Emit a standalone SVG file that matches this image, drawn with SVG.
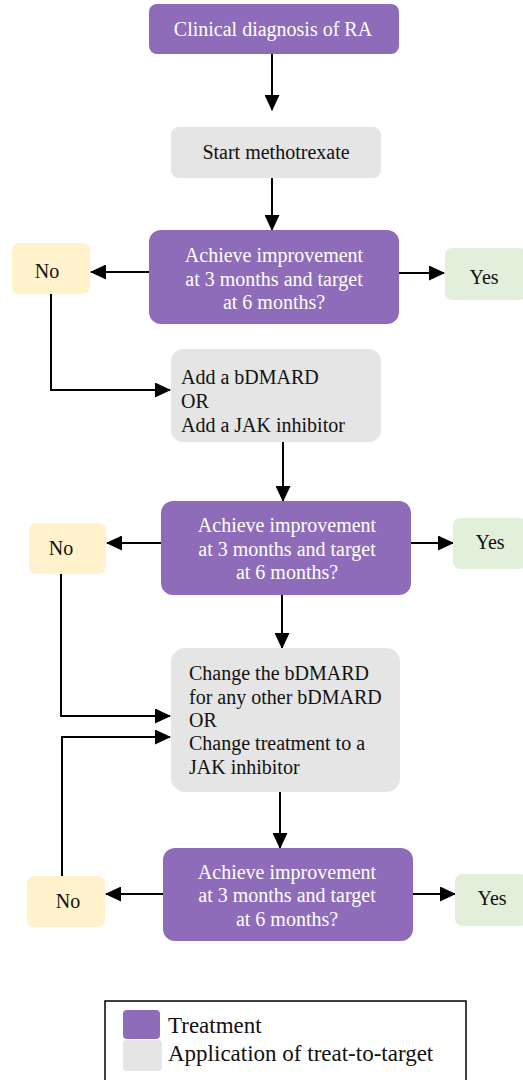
<svg xmlns="http://www.w3.org/2000/svg" width="523" height="1080" viewBox="0 0 523 1080">
<defs>
<marker id="ah" markerUnits="userSpaceOnUse" markerWidth="16" markerHeight="15" refX="15" refY="7.5" orient="auto">
<path d="M0,0 L16,7.5 L0,15 z" fill="#000"/>
</marker>
<style>
text{font-family:"Liberation Serif","Times New Roman",serif;font-size:20px;fill:#111}
.w{fill:#fff}
.c{text-anchor:middle}
.lg{font-size:23px}
.p{fill:#8e6cb9}
.g{fill:#e5e5e5}
.n{fill:#fff2cc}
.y{fill:#e2efda}
.ln{fill:none;stroke:#000;stroke-width:2;marker-end:url(#ah)}
</style>
</defs>
<rect width="523" height="1080" fill="#fff"/>
<g id="connectors">
<path class="ln" d="M272,54 V110"/>
<path class="ln" d="M272,178 V230"/>
<path class="ln" d="M149,272 H91"/>
<path class="ln" d="M399,273 H444"/>
<path class="ln" d="M51,294 V390 H170"/>
<path class="ln" d="M283,442 V501"/>
<path class="ln" d="M161,543 H107"/>
<path class="ln" d="M411,543 H453"/>
<path class="ln" d="M282,595 V648"/>
<path class="ln" d="M61,574 V716 H170"/>
<path class="ln" d="M62,876 V737 H170"/>
<path class="ln" d="M280,792 V848"/>
<path class="ln" d="M163,894 H106"/>
<path class="ln" d="M413,894 H455"/>
</g>
<g id="n1"><rect class="p" x="149" y="4" width="250" height="50" rx="8"/>
<text class="w c" x="273" y="36">Clinical diagnosis of RA</text></g>
<g id="n2"><rect class="g" x="171" y="127" width="210" height="51" rx="8"/>
<text class="c" x="276" y="159">Start methotrexate</text></g>
<g id="d1"><rect class="p" x="149" y="230" width="250" height="94" rx="12"/>
<text class="w c" x="274" y="262">Achieve improvement</text>
<text class="w c" x="274" y="286">at 3 months and target</text>
<text class="w c" x="274" y="309">at 6 months?</text></g>
<g id="no1"><rect class="n" x="12" y="243" width="78" height="51" rx="7"/>
<text class="c" x="47" y="278">No</text></g>
<g id="yes1"><rect class="y" x="445" y="248" width="82" height="52" rx="7"/>
<text class="c" x="484" y="284">Yes</text></g>
<g id="n3"><rect class="g" x="171" y="349" width="210" height="93" rx="12"/>
<text x="181" y="384">Add a bDMARD</text>
<text x="181" y="408">OR</text>
<text x="181" y="432">Add a JAK inhibitor</text></g>
<g id="d2"><rect class="p" x="161" y="501" width="250" height="94" rx="12"/>
<text class="w c" x="287" y="532">Achieve improvement</text>
<text class="w c" x="287" y="556">at 3 months and target</text>
<text class="w c" x="287" y="579">at 6 months?</text></g>
<g id="no2"><rect class="n" x="29" y="523" width="77" height="51" rx="7"/>
<text class="c" x="61" y="555">No</text></g>
<g id="yes2"><rect class="y" x="453" y="518" width="74" height="51" rx="7"/>
<text class="c" x="490" y="549">Yes</text></g>
<g id="n4"><rect class="g" x="171" y="648" width="229" height="144" rx="14"/>
<text x="189" y="680">Change the bDMARD</text>
<text x="189" y="704">for any other bDMARD</text>
<text x="189" y="727">OR</text>
<text x="189" y="750">Change treatment to a</text>
<text x="189" y="774">JAK inhibitor</text></g>
<g id="d3"><rect class="p" x="163" y="848" width="250" height="93" rx="12"/>
<text class="w c" x="287" y="879">Achieve improvement</text>
<text class="w c" x="287" y="902">at 3 months and target</text>
<text class="w c" x="287" y="926">at 6 months?</text></g>
<g id="no3"><rect class="n" x="27" y="876" width="78" height="51" rx="7"/>
<text class="c" x="68" y="908">No</text></g>
<g id="yes3"><rect class="y" x="455" y="874" width="72" height="52" rx="7"/>
<text class="c" x="492" y="905">Yes</text></g>
<g id="legend">
<rect x="105" y="1001" width="361" height="85" fill="none" stroke="#000" stroke-width="1.5"/>
<rect class="p" x="123" y="1010" width="37" height="29" rx="4"/>
<rect class="g" x="123" y="1040" width="39" height="31" rx="4"/>
<text class="lg" x="168" y="1033">Treatment</text>
<text class="lg" x="168" y="1061">Application of treat-to-target</text>
</g>
</svg>
